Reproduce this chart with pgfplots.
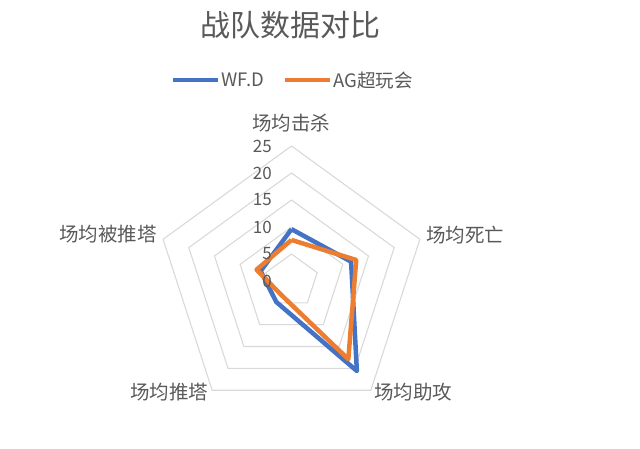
\documentclass[border=0pt]{standalone}
\usepackage{fontspec}
\setmainfont{Noto Sans CJK SC}
\usepackage{pgfplots}
\pgfplotsset{compat=1.18}
\usepgfplotslibrary{polar}
\definecolor{txt}{HTML}{595959}
\definecolor{gridc}{HTML}{D9D9D9}
\definecolor{sblue}{HTML}{4472C4}
\definecolor{sorange}{HTML}{ED7D31}
\begin{document}
\begin{tikzpicture}[x=1bp,y=1bp]
\useasboundingbox (0bp,0bp) rectangle (640bp,449bp);
\begin{polaraxis}[
  at={(291.5bp,168bp)}, anchor=origin,
  scale only axis, width=270bp, height=270bp,
  xmin=0, xmax=360, ymin=0, ymax=25,
  hide axis, xtick=\empty, ytick=\empty,
  clip=false,
  legend columns=2,
  legend style={at={(0.5037,1.2444)}, anchor=center, draw=none, fill=none,
    font=\fontsize{18.5bp}{21bp}\selectfont, text=txt,
    nodes={inner sep=1.5bp},
    /tikz/every even column/.append style={column sep=17bp}},
  legend image code/.code={\draw[#1, line width=4bp] (0bp,0bp) -- (45bp,0bp);},
]
% rings
\foreach \r in {5,10,15,20,25}{
  \edef\tmp{\noexpand\addplot[gridc, line width=1.1bp, forget plot] coordinates {(90,\r) (18,\r) (306,\r) (234,\r) (162,\r) (90,\r)};}
  \tmp
}
% series
\addplot[sblue, line width=4.5bp, line join=round] coordinates {(90,9.6) (18,11.6) (306,20.6) (234,4.8) (162,6.0) (90,9.6)};
\addlegendentry{WF.D}
\addplot[sorange, line width=4.5bp, line join=round] coordinates {(90,7.6) (18,12.6) (306,17.9) (234,3.2) (162,6.8) (90,7.6)};
\addlegendentry{AG超玩会}
% radial value labels
\foreach \v in {0,5,10,15,20,25}{
  \edef\tmp{\noexpand\node[anchor=east, text=txt, font=\noexpand\fontsize{17bp}{19bp}\noexpand\selectfont, inner sep=0pt, xshift=-19.5bp] at (axis cs:90,\v) {\v};}
  \tmp
}
\end{polaraxis}
\node[text=txt, font=\fontsize{30bp}{34bp}\selectfont] at (290bp,424bp) {战队数据对比};
\begin{scope}[every node/.style={text=txt, font=\fontsize{19.5bp}{22bp}\selectfont}]
\node at (291bp,325.5bp) {场均击杀};
\node at (465bp,214bp) {场均死亡};
\node at (413bp,56.5bp) {场均助攻};
\node at (169bp,56.5bp) {场均推塔};
\node at (108bp,215bp) {场均被推塔};
\end{scope}
\end{tikzpicture}
\end{document}
